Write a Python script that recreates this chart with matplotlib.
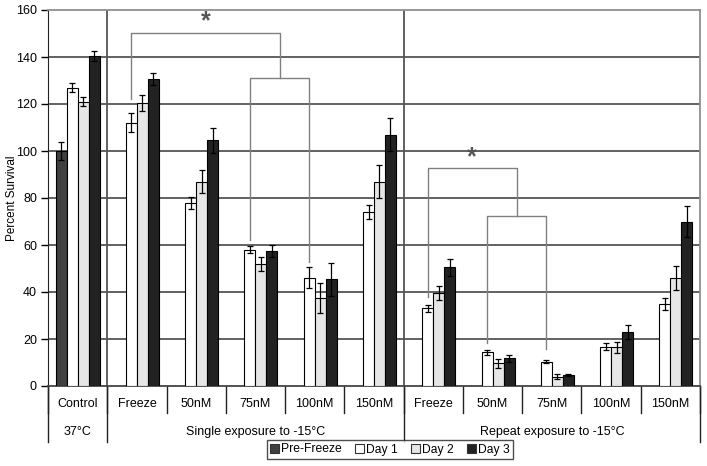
import numpy as np
import matplotlib.pyplot as plt
from matplotlib.patches import Patch

plt.rcParams['font.family'] = ['Liberation Sans', 'DejaVu Sans']

groups = ['Control', 'Freeze', '50nM', '75nM', '100nM', '150nM',
          'Freeze', '50nM', '75nM', '100nM', '150nM']
sections = ['37°C', 'Single exposure to -15°C', 'Repeat exposure to -15°C']
section_sizes = [1, 5, 5]
series_names = ['Pre-Freeze', 'Day 1', 'Day 2', 'Day 3']
series_colors = ['#404040', '#ffffff', '#e6e6e6', '#222222']

nan = np.nan
pre_freeze = [100, nan, nan, nan, nan, nan, nan, nan, nan, nan, nan]
pre_freeze_err = [4, nan, nan, nan, nan, nan, nan, nan, nan, nan, nan]
day1 = [127, 112, 78, 58, 46, 74, 33, 14.3, 10.4, 16.7, 35]
day1_err = [2, 4, 2.5, 1.5, 4.5, 3, 1.5, 1, 0.5, 1.5, 2.5]
day2 = [121, 120.5, 87, 52, 37.5, 87, 39.5, 9.6, 4, 16.4, 46]
day2_err = [2, 3.5, 5, 3, 6.5, 7, 3, 2, 1, 2.5, 5]
day3 = [140.5, 130.5, 104.5, 57.5, 45.5, 107, 50.5, 11.8, 4.7, 23, 70]
day3_err = [2, 2.5, 5.5, 2.5, 7, 7, 3.5, 1.5, 0.5, 3, 6.5]

# significance brackets
# inner: (left group, right group, left leg bottom, right leg bottom, bar height)
# outer: (group, leg bottom, middle leg bottom, bar height, star height)
single_inner = (3, 4, 62, 52.6, 131)
single_outer = (1, 122, 131, 150.2, 155)
repeat_inner = (7, 8, 18.3, 15.7, 72.3)
repeat_outer = (6, 38, 72.3, 92.6, 97.4)

values = [pre_freeze, day1, day2, day3]
errors = [pre_freeze_err, day1_err, day2_err, day3_err]

fig = plt.figure(figsize=(7.07, 4.66), dpi=100)
ax = fig.add_axes([48 / 707, 80 / 466, 652 / 707, 376 / 466])

x = np.arange(len(groups))
w = 0.1855
for k in range(4):
    xs = x + (k - 1.5) * w
    ax.bar(xs, values[k], width=w, color=series_colors[k], edgecolor='black',
           linewidth=0.8, zorder=3)
    ax.errorbar(xs, values[k], yerr=errors[k], fmt='none', ecolor='black',
                elinewidth=0.9, capsize=2.2, capthick=0.9, zorder=4)

ax.set_xlim(-0.5, len(groups) - 0.5)
ax.set_ylim(0, 160)
ax.set_yticks(range(0, 161, 20))
for yv in range(20, 160, 20):
    ax.axhline(yv, color='#555555', lw=1.3, zorder=1)
for xv in [0.5, 5.5]:
    ax.axvline(xv, color='#555555', lw=1.3, zorder=1)

ax.set_xticks([])
ax.tick_params(axis='y', length=5, width=1, labelsize=9, pad=3)
for s in ['top', 'right']:
    ax.spines[s].set_color('#909090')
    ax.spines[s].set_linewidth(1.3)
ax.spines['left'].set_color('#222222')
ax.spines['bottom'].set_color('#444444')
ax.spines['bottom'].set_linewidth(1.3)
ax.set_ylabel('Percent Survival', fontsize=8.5)
ax.yaxis.set_label_coords(-30 / 652, 0.5)


def d1(i):
    return i - 0.5 * w


def draw_brackets(inner, outer):
    li, ri, lb, rb, top_in = inner
    xl, xr = d1(li), d1(ri)
    ax.plot([xl, xl, xr, xr], [lb, top_in, top_in, rb], color='#808080', lw=1, zorder=5)
    xm = (xl + xr) / 2
    oi, ob, mb, top_out, star_y = outer
    xo = d1(oi)
    ax.plot([xo, xo, xm, xm], [ob, top_out, top_out, mb], color='#808080', lw=1, zorder=5)
    ax.text((xo + xm) / 2, star_y, '*', ha='center', va='center', fontsize=18,
            fontweight='bold', color='#555555', zorder=6)


draw_brackets(single_inner, single_outer)
draw_brackets(repeat_inner, repeat_outer)

# two-level category axis below the plot
tr = ax.get_xaxis_transform()
lvl1 = -27 / 376
lvl2 = -56 / 376
for i, g in enumerate(groups):
    ax.text(i, -18 / 376, g, transform=tr, ha='center', va='center', fontsize=9)
for b in np.arange(len(groups) + 1) - 0.5:
    ax.plot([b, b], [0, lvl1], transform=tr, color='#222222', lw=1, clip_on=False)
start = 0
for name, n in zip(sections, section_sizes):
    lo, hi = start - 0.5, start + n - 0.5
    ax.plot([lo, lo], [0, lvl2], transform=tr, color='#222222', lw=1, clip_on=False)
    ax.text((lo + hi) / 2, -46 / 376, name, transform=tr, ha='center', va='center',
            fontsize=9)
    start += n
ax.plot([start - 0.5] * 2, [0, lvl2], transform=tr, color='#222222', lw=1, clip_on=False)

handles = [Patch(facecolor=c, edgecolor='#333333', linewidth=0.8) for c in series_colors]
leg = fig.legend(handles, series_names, loc='center', ncol=4,
                 bbox_to_anchor=(390 / 707, 1 - 449.5 / 466), fontsize=8.7,
                 handlelength=0.7, handleheight=0.7, handletextpad=0.2,
                 columnspacing=1.1, borderpad=0.3, frameon=True, fancybox=False)
leg.get_frame().set_edgecolor('#222222')
leg.get_frame().set_linewidth(1)

fig.savefig('out.png', dpi=100)
